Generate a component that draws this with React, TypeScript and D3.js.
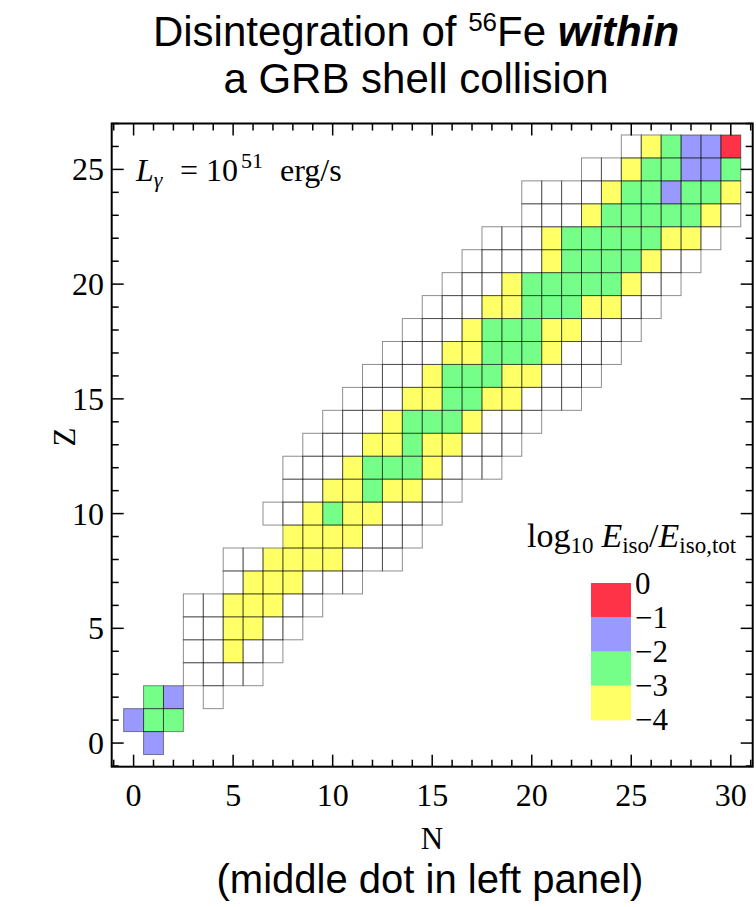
import React from 'react';
import * as d3 from 'd3';

const W = 756;
const H = 907;

// Cell levels per row (index = Z), characters indexed by N (0..30)
// r: 0..-1, b: -1..-2, g: -2..-3, y: -3..-4, w: below -4, '.': no cell
const ROWS: string[] = [
  '.b',                                 // Z=0
  'bgg',                                // Z=1
  '.gb.w',                              // Z=2
  '...wwww',                            // Z=3
  '...wwyww',                           // Z=4
  '...wwyyww',                          // Z=5
  '...wwyyyww',                         // Z=6
  '.....wyyywww',                       // Z=7
  '.....wwyyyywww',                     // Z=8
  '........yyyywww',                    // Z=9
  '.......wwygyywww',                   // Z=10
  '........wwyygyyww',                  // Z=11
  '........wwwygggywww',                // Z=12
  '.........wwwyygyywww',               // Z=13
  '..........wwwygggywww',              // Z=14
  '...........wwwyyggyywww',            // Z=15
  '............wwwygggyywww',           // Z=16
  '.............wwwyygggywww',          // Z=17
  '..............wwwygggyywww',         // Z=18
  '...............wwwyygggyyww',        // Z=19
  '................wwwygggggyww',       // Z=20
  '.................wwwwyggggyww',      // Z=21
  '..................wwwygggggyyw',     // Z=22
  '....................wwwygggggyw',    // Z=23
  '....................wwwwyggbggy',    // Z=24
  '.......................wwyggbbg',    // Z=25
  '.........................wygbbr',    // Z=26
];

const LEVEL_KEYS = ['r', 'b', 'g', 'y', 'w'];
const LEVEL_COLORS = ['#FF3347', '#9999FF', '#75FF88', '#FFFF66', '#FFFFFF'];
const LEGEND_LABELS = ['0', '\u22121', '\u22122', '\u22123', '\u22124'];
const N_TICKS = [0, 5, 10, 15, 20, 25, 30];
const Z_TICKS = [0, 5, 10, 15, 20, 25];

const SERIF = '"Liberation Serif", "DejaVu Serif", serif';
const SANS = '"Liberation Sans", Arial, sans-serif';

export default function App() {
  const x = d3.scaleLinear().domain([-1.1, 31.1]).range([111.7, 752.7]);
  const y = d3.scaleLinear().domain([-1.03, 27.0]).range([766.7, 123.5]);
  const color = d3.scaleOrdinal<string, string>().domain(LEVEL_KEYS).range(LEVEL_COLORS);

  const cells: { n: number; z: number; c: string }[] = [];
  ROWS.forEach((row, z) => {
    for (let n = 0; n < row.length; n++) {
      const c = row[n];
      if (c !== '.') cells.push({ n, z, c });
    }
  });

  const [x0, x1] = x.range();
  const [y0, y1] = y.range(); // y0 bottom, y1 top

  const nMinor = d3.range(-1, 32);
  const zMinor = d3.range(-1, 28);
  const major = 12;
  const minor = 7;

  // legend
  const lgX = 591;
  const lgW = 40;
  const lgTop = 583;
  const lgStep = 34.2;

  return (
    <svg width={W} height={H} style={{ display: 'block', position: 'absolute', left: 0, top: 0 }}>
      <rect x={0} y={0} width={W} height={H} fill="#fff" />
      {/* Title */}
      <text x={416} y={46} textAnchor="middle" fontFamily={SANS} fontSize={42} fill="#000">
        Disintegration of <tspan fontSize={26} dy={-15}>56</tspan>
        <tspan dy={15}>Fe </tspan>
        <tspan fontWeight="bold" fontStyle="italic">within</tspan>
      </text>
      <text x={416} y={93} textAnchor="middle" fontFamily={SANS} fontSize={42} fill="#000">
        a GRB shell collision
      </text>

      {/* cells: fills */}
      <g>
        {cells.map((d, i) => (
          <rect
            key={'f' + i}
            x={x(d.n - 0.5)}
            y={y(d.z + 0.5)}
            width={x(d.n + 0.5) - x(d.n - 0.5)}
            height={y(d.z - 0.5) - y(d.z + 0.5)}
            fill={color(d.c)}
            stroke="none"
          />
        ))}
      </g>
      {/* cells: borders */}
      <g>
        {cells.map((d, i) => (
          <rect
            key={'s' + i}
            x={x(d.n - 0.5)}
            y={y(d.z + 0.5)}
            width={x(d.n + 0.5) - x(d.n - 0.5)}
            height={y(d.z - 0.5) - y(d.z + 0.5)}
            fill="none"
            stroke="#000"
            strokeOpacity={0.45}
            strokeWidth={1}
          />
        ))}
      </g>

      {/* ticks */}
      <g stroke="#000" strokeWidth={1.5}>
        {nMinor.map((n) => {
          const len = n % 5 === 0 ? major : minor;
          return (
            <g key={'nt' + n}>
              <line x1={x(n)} x2={x(n)} y1={y0} y2={y0 - len} />
              <line x1={x(n)} x2={x(n)} y1={y1} y2={y1 + len} />
            </g>
          );
        })}
        {zMinor.map((z) => {
          const len = z % 5 === 0 ? major : minor;
          return (
            <g key={'zt' + z}>
              <line x1={x0} x2={x0 + len} y1={y(z)} y2={y(z)} />
              <line x1={x1} x2={x1 - len} y1={y(z)} y2={y(z)} />
            </g>
          );
        })}
      </g>
      {/* frame */}
      <rect x={x0} y={y1} width={x1 - x0} height={y0 - y1} fill="none" stroke="#000" strokeWidth={2} />

      {/* tick labels */}
      <g fontFamily={SERIF} fontSize={32} fill="#000">
        {N_TICKS.map((n) => (
          <text key={'nl' + n} x={x(n)} y={806} textAnchor="middle">
            {n}
          </text>
        ))}
        {Z_TICKS.map((z) => (
          <text key={'zl' + z} x={104} y={y(z)} textAnchor="end" dominantBaseline="central">
            {z}
          </text>
        ))}
      </g>

      {/* axis labels */}
      <text x={432} y={849} textAnchor="middle" fontFamily={SERIF} fontSize={31}>
        N
      </text>
      <text
        transform={`translate(75,437) rotate(-90)`}
        textAnchor="middle"
        fontFamily={SERIF}
        fontSize={31}
      >
        Z
      </text>

      {/* annotation */}
      <text x={136} y={181} fontFamily={SERIF} fontSize={32}>
        <tspan fontStyle="italic">L</tspan>
        <tspan fontStyle="italic" fontSize={22} dy={6}>γ</tspan>
        <tspan x={180} dy={-6}>=</tspan>
        <tspan x={206}>10</tspan>
        <tspan x={241} fontSize={22} dy={-13}>51</tspan>
        <tspan x={280} dy={13}>erg/s</tspan>
      </text>

      {/* legend */}
      <text x={527} y={547} fontFamily={SERIF} fontSize={34}>
        <tspan>log</tspan>
        <tspan fontSize={23} dy={6}>10</tspan>
        <tspan fontStyle="italic" dx={8} dy={-6}>E</tspan>
        <tspan fontSize={23} dy={6}>iso</tspan>
        <tspan dy={-6}>/</tspan>
        <tspan fontStyle="italic">E</tspan>
        <tspan fontSize={23} dy={6}>iso,tot</tspan>
      </text>
      <g>
        {LEVEL_KEYS.slice(0, 4).map((k, i) => (
          <rect
            key={'lg' + k}
            x={lgX}
            y={lgTop + i * lgStep}
            width={lgW}
            height={lgStep + 0.5}
            fill={color(k)}
          />
        ))}
        {LEGEND_LABELS.map((t, i) => (
          <text
            key={'ll' + i}
            x={635}
            y={lgTop + i * lgStep}
            dominantBaseline="central"
            fontFamily={SERIF}
            fontSize={31}
          >
            {t}
          </text>
        ))}
      </g>

      {/* footer */}
      <text x={430} y={893} textAnchor="middle" fontFamily={SANS} fontSize={40}>
        (middle dot in left panel)
      </text>
    </svg>
  );
}
